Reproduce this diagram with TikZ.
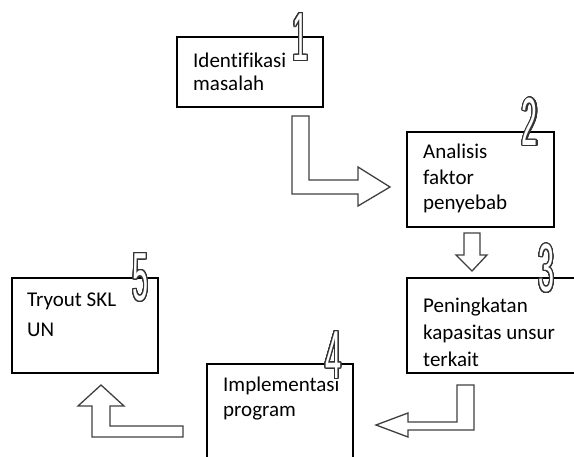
\documentclass[tikz,border=0pt]{standalone}
\usepackage{fontspec}
\setmainfont{Carlito}[Ligatures=CommonOff]
\newfontfamily\numfont{Liberation Sans}
\usepackage{graphicx}
\usepackage{contour}
\contourlength{1.1pt}
\contournumber{32}
\usetikzlibrary{calc}

\newcommand{\stepnum}[1]{{\color{white}\contour{black!80}{\scalebox{0.72}[1.7]{#1}}}}

\tikzset{
  box/.style={draw, line width=1.2pt, inner sep=0, minimum width=#1},
  txt/.style={font=\fontsize{21}{#1}\selectfont, align=left, anchor=base west, inner sep=0},
  num/.style={font=\numfont\fontsize{40}{40}\selectfont, inner sep=0},
  blockarrow/.style={draw=black!75, line width=1.3pt, line join=miter, fill=white}
}

\begin{document}
\begin{tikzpicture}[x=1pt,y=-1pt]
  \useasboundingbox (0,0) rectangle (574,457);

  \node[box=146pt, minimum height=70pt] (b1) at (250,72) {};
  \node[box=147pt, minimum height=95pt] (b2) at (480.5,179.5) {};
  \node[box=180pt, minimum height=95pt] (b3) at (497,325.5) {};
  \node[box=146pt, minimum height=110pt] (b4) at (280,419) {};
  \node[box=146pt, minimum height=95pt] (b5) at (85,325.5) {};

  % base anchor sits on the last line
  \node[txt=23pt] (t1) at (193,91) {Identifikasi\\masalah};
  \node[txt=25.5pt] (t2) at (423,210) {Analisis\\faktor\\penyebab};
  \node[txt=27pt] (t3) at (423,367) {Peningkatan\\kapasitas unsur\\terkait};
  \node[txt=25pt] (t4) at (223,417) {Implementasi\\program};
  \node[txt=30pt] (t5) at (27,337) {Tryout SKL\\UN};

  \draw[blockarrow] (292,116) -- (309,116) -- (309,180) -- (358,180) -- (358,167)
    -- (390,187) -- (358,206) -- (358,194) -- (292,194) -- cycle;
  \draw[blockarrow] (464,233) -- (480,233) -- (480,255) -- (487,255) -- (472,271)
    -- (456,255) -- (464,255) -- cycle;
  \draw[blockarrow] (457,385) -- (474,385) -- (474,430) -- (408,430) -- (408,437)
    -- (376,425) -- (408,413) -- (408,422) -- (457,422) -- cycle;
  \draw[blockarrow] (101,385) -- (124,406) -- (110,406) -- (110,426) -- (183,426)
    -- (183,437) -- (92,437) -- (92,406) -- (78,406) -- cycle;

  \node[num] (n1) at (300.5,37.5) {\stepnum{1}};
  \node[num] (n2) at (530,122.5) {\stepnum{2}};
  \node[num] (n3) at (546.5,269) {\stepnum{3}};
  \node[num] (n4) at (333.5,355.5) {\stepnum{4}};
  \node[num] (n5) at (140.5,278) {\stepnum{5}};
\end{tikzpicture}
\end{document}
